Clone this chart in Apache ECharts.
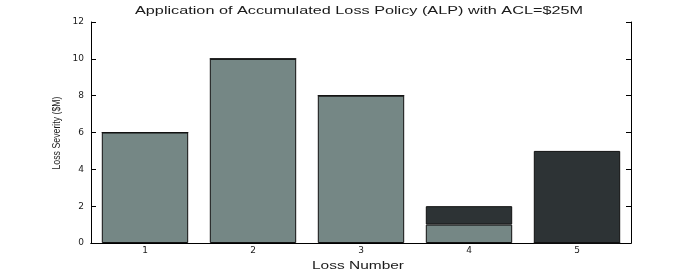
<!DOCTYPE html>
<html><head><meta charset="utf-8">
<script src="https://cdn.jsdelivr.net/npm/echarts@6/dist/echarts.min.js"></script>
<style>html,body{margin:0;padding:0;background:#fff}#c{width:697px;height:273px}</style>
</head><body><div id="c"></div>
<script>
const categories = ['1','2','3','4','5'];
const retainedLoss = [6, 10, 8, 1, 0];
const excessLoss = [0, 0, 0, 1, 5];
const yTicks = [0, 2, 4, 6, 8, 10, 12];
const titleText = 'Application of Accumulated Loss Policy (ALP) with ACL=$25M';
const xName = 'Loss Number';
const yName = 'Loss Severity ($M)';

const mctx = document.createElement('canvas').getContext('2d');
function scaleFor(text, size, family, target) {
  mctx.font = size + 'px ' + family;
  return target / mctx.measureText(text).width;
}
const sans = '"Liberation Sans", Arial, sans-serif';
const narrow = '"Liberation Sans Narrow", "Arial Narrow", sans-serif';
const tickFont = '"DejaVu Sans", sans-serif';
const txtColor = '#1a1a1a';

const chart = echarts.init(document.getElementById('c'), null, {renderer:'canvas'});
chart.setOption({
  animation: false,
  backgroundColor: '#fff',
  grid: {left: 91, right: 66, top: 22, bottom: 30, containLabel: false, outerBoundsMode: 'none'},
  xAxis: [{
    type: 'category', data: categories, position: 'bottom',
    axisLine: {lineStyle: {color: '#000', width: 1}},
    axisTick: {inside: true, alignWithLabel: true, length: 5, lineStyle: {color: '#000'}},
    axisLabel: {fontFamily: tickFont, fontSize: 9, color: txtColor, margin: 3}
  }, {
    type: 'category', data: categories, position: 'top',
    axisLine: {show: true, lineStyle: {color: '#000', width: 1}},
    axisTick: {inside: true, alignWithLabel: true, length: 5, lineStyle: {color: '#000'}},
    axisLabel: {show: false}
  }],
  yAxis: [{
    type: 'value', min: yTicks[0], max: yTicks[yTicks.length-1], interval: 2,
    axisLine: {show: true, lineStyle: {color: '#000', width: 1}},
    axisTick: {show: true, inside: true, length: 5, lineStyle: {color: '#000'}},
    axisLabel: {fontFamily: tickFont, fontSize: 9, color: txtColor, margin: 7},
    splitLine: {show: false}
  }, {
    type: 'value', min: yTicks[0], max: yTicks[yTicks.length-1], interval: 2, position: 'right',
    axisLine: {show: true, lineStyle: {color: '#000', width: 1}},
    axisTick: {show: true, inside: true, length: 5, lineStyle: {color: '#000'}},
    axisLabel: {show: false},
    splitLine: {show: false}
  }],
  graphic: [{
    type: 'text', x: 359, y: 11, scaleX: scaleFor(titleText, 11, sans, 448),
    style: {text: titleText, font: '11px ' + sans, fill: txtColor, align: 'center', verticalAlign: 'middle'}
  }, {
    type: 'text', x: 358, y: 266, scaleX: scaleFor(xName, 10, sans, 92),
    style: {text: xName, font: '10px ' + sans, fill: txtColor, align: 'center', verticalAlign: 'middle'}
  }, {
    type: 'text', x: 57, y: 133, rotation: Math.PI / 2, scaleX: scaleFor(yName, 10, narrow, 73), scaleY: 1.15,
    style: {text: yName, font: '10px ' + narrow, fill: txtColor, align: 'center', verticalAlign: 'middle'}
  }],
  series: [{
    type: 'bar', stack: 'loss', data: retainedLoss, barWidth: '80%',
    itemStyle: {color: '#758785', borderColor: '#111', borderWidth: 1}
  }, {
    type: 'bar', stack: 'loss', data: excessLoss, barWidth: '80%',
    itemStyle: {color: '#2d3335', borderColor: '#111', borderWidth: 1}
  }]
});
</script></body></html>
